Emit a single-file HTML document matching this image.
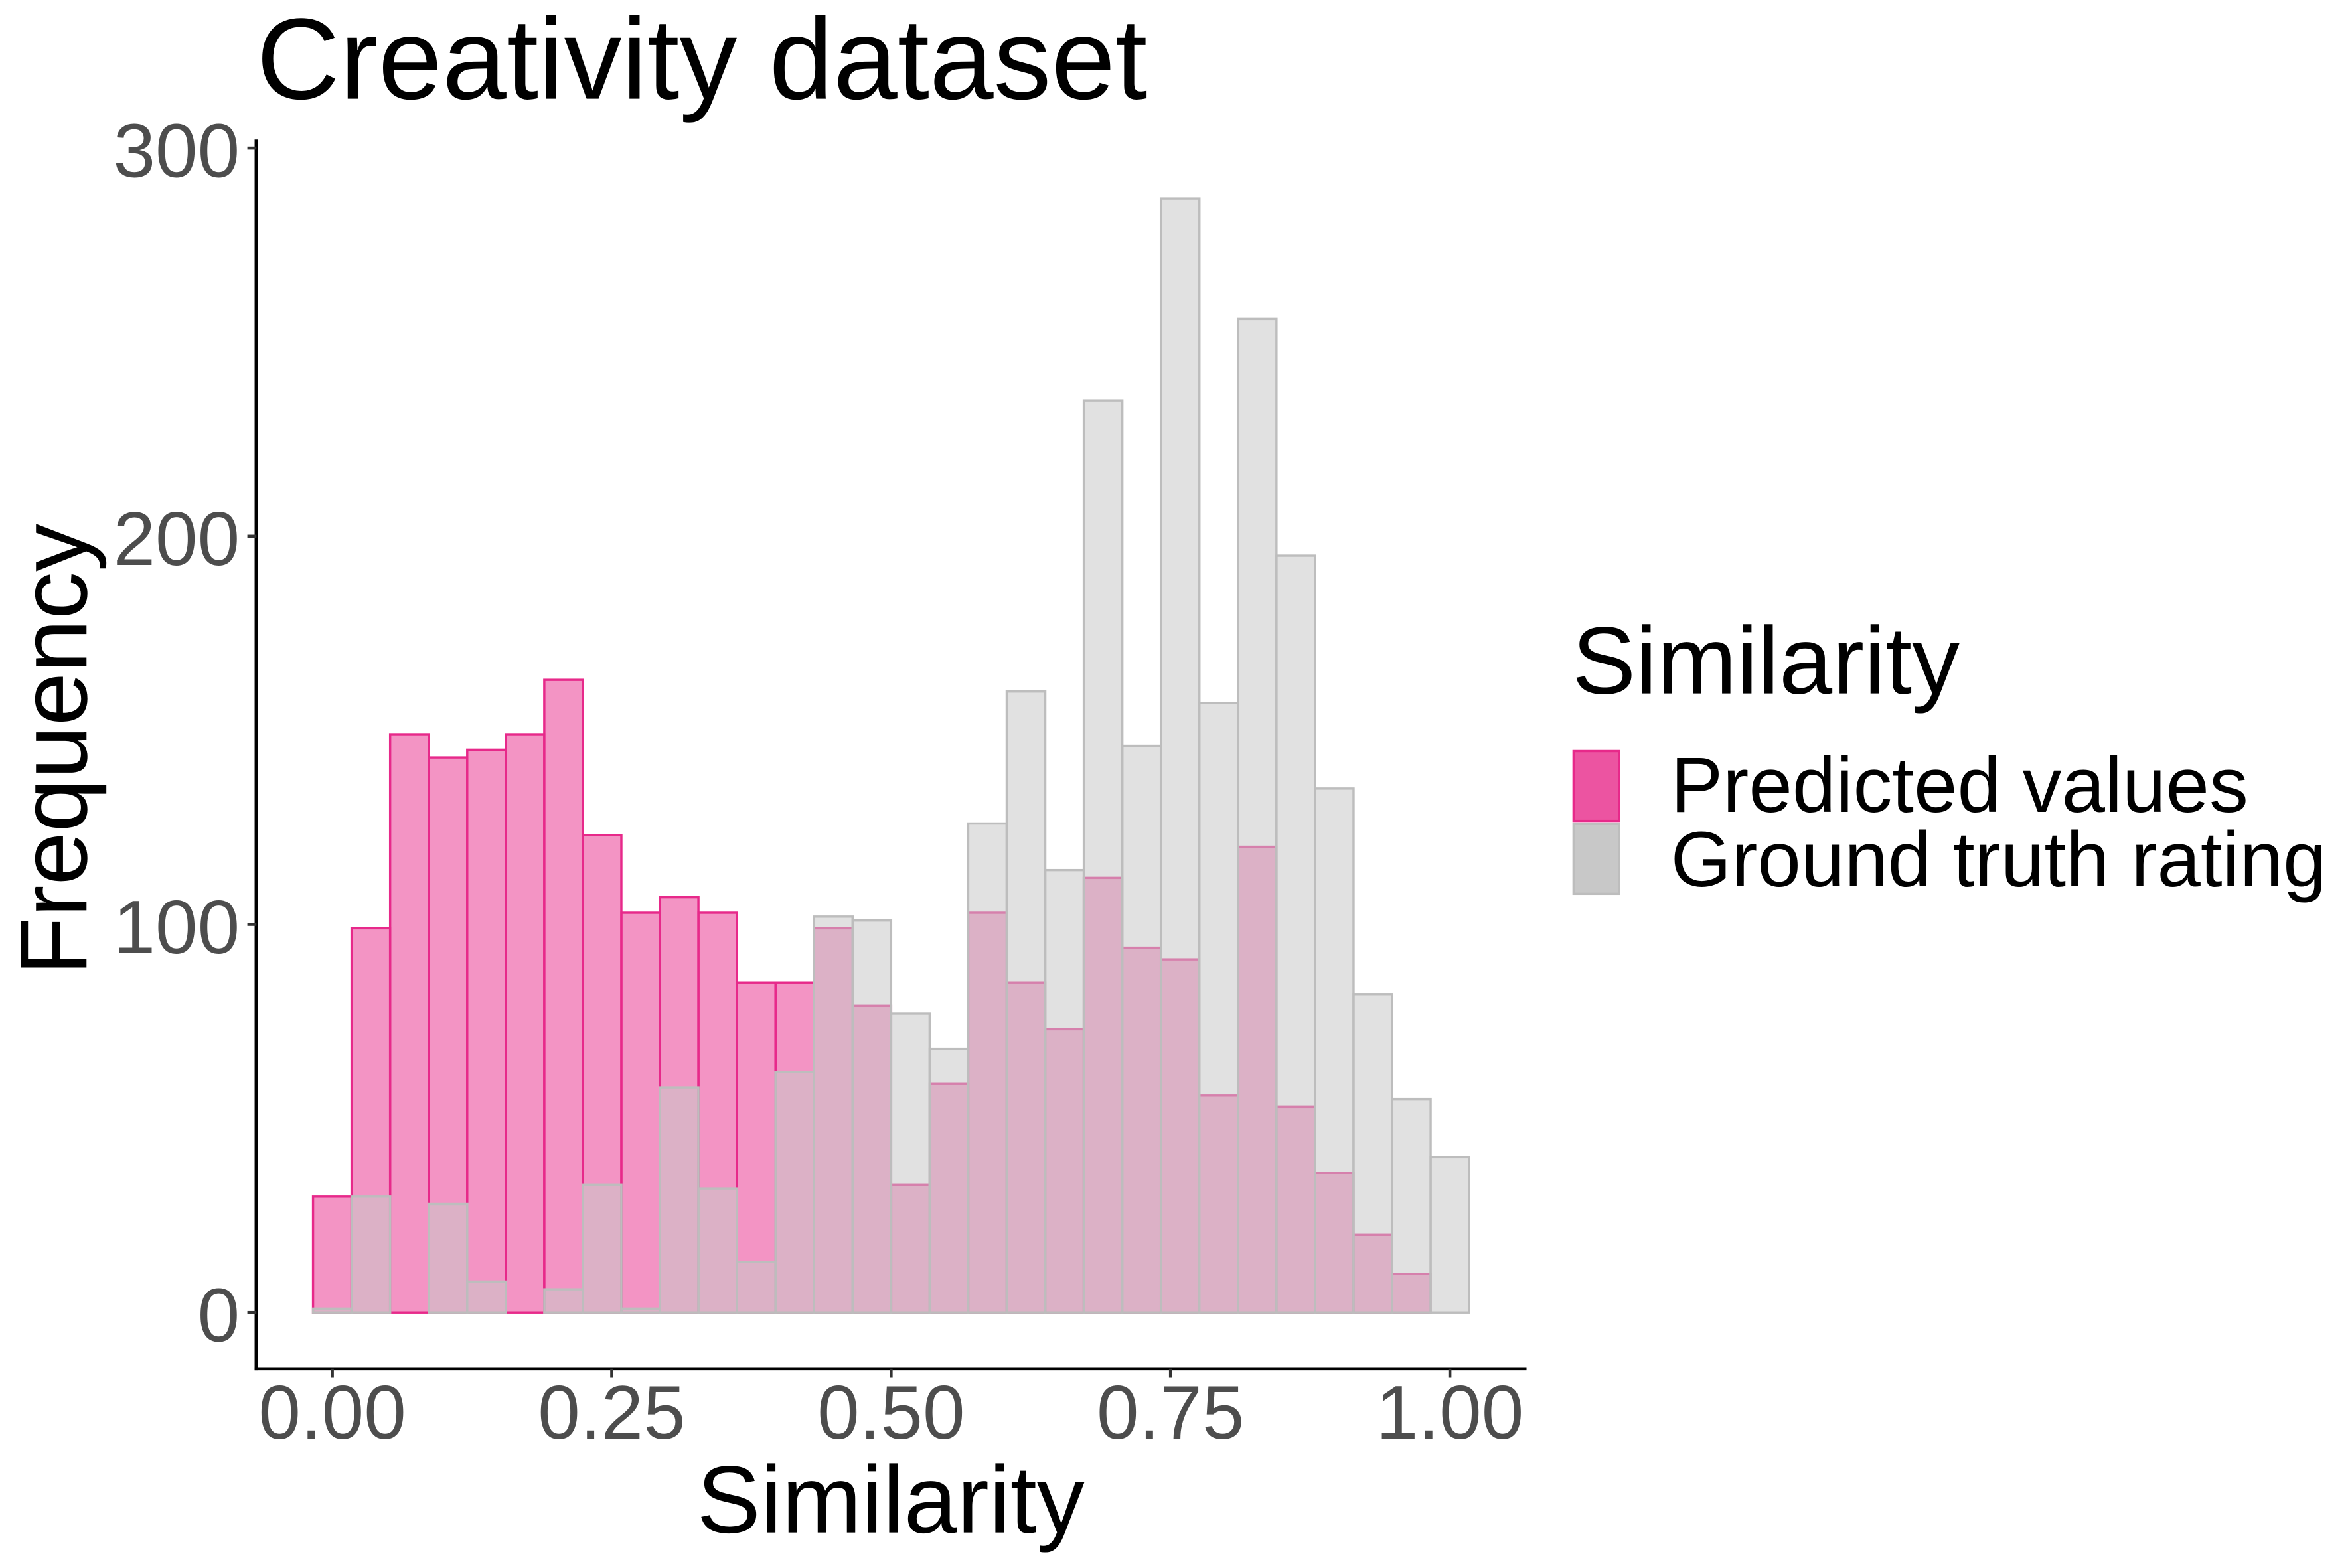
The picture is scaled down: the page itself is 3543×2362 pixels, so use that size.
<!DOCTYPE html>
<html><head><meta charset="utf-8"><style>html,body{margin:0;padding:0;background:#fff}svg{display:block}</style></head>
<body>
<svg id="chart" width="3543" height="2362" viewBox="0 0 1550 1033.33" xmlns="http://www.w3.org/2000/svg" font-family="Liberation Sans, sans-serif">
<rect width="1550" height="1034" fill="#fff"/>
<text x="169" y="65" font-size="76" fill="#000">Creativity dataset</text>
<g id="bars"></g>
<g id="axes"></g>
<text x="587" y="1010" font-size="63" text-anchor="middle" fill="#000">Similarity</text>
<text transform="translate(57,494) rotate(-90)" font-size="63" text-anchor="middle" fill="#000">Frequency</text>
<g>
<text x="1036" y="457" font-size="63" fill="#000">Similarity</text>
<rect x="1037" y="495" width="30" height="46" fill="#e7298a" fill-opacity="0.8" stroke="#e7298a" stroke-width="1.5"/>
<rect x="1037" y="543" width="30" height="46" fill="#c8c8c8" stroke="#bdbdbd" stroke-width="1.5"/>
<text x="1101" y="535" font-size="51.5" fill="#000">Predicted values</text>
<text x="1101" y="584" font-size="51.5" fill="#000">Ground truth rating</text>
</g>
</svg>
<script>
const predicted = [30,99,149,143,145,149,163,123,103,107,103,85,85,99,79,33,59,103,85,73,112,94,91,56,120,53,36,20,10,0];
const groundTruth = [1,30,0,28,8,0,6,33,1,58,32,13,62,102,101,77,68,126,160,114,235,146,287,157,256,195,135,82,55,40];
const binCount = 30;
const yTicks = [0,100,200,300];
const xTicks = [0,0.25,0.5,0.75,1];
const xTickLabels = ["0.00","0.25","0.50","0.75","1.00"];

const NS = "http://www.w3.org/2000/svg";
const x0 = 219, x1 = 955.5, y0 = 865, yPer = 2.558;
const binW = 1/(binCount-1);
const xs = v => x0 + (x1-x0)*v;
const ys = v => y0 - v*yPer;
const bars = document.getElementById('bars');
const axes = document.getElementById('axes');
function mk(tag, attrs, parent){const e=document.createElementNS(NS,tag);for(const k in attrs)e.setAttribute(k,attrs[k]);parent.appendChild(e);return e;}

predicted.forEach((v,i)=>{
  const c=i*binW, l=xs(c-binW/2), r=xs(c+binW/2);
  const e=mk('rect',{x:l,y:ys(v),width:r-l,height:ys(0)-ys(v),fill:'#e7298a','fill-opacity':0.5,stroke:'#e7298a','stroke-width':1.5},bars);
  
  
});
groundTruth.forEach((v,i)=>{
  const c=i*binW, l=xs(c-binW/2), r=xs(c+binW/2);
  const e=mk('rect',{x:l,y:ys(v),width:r-l,height:ys(0)-ys(v),fill:'#c8c8c8','fill-opacity':0.55,stroke:'#bdbdbd','stroke-width':1.5},bars);
  
  
});

let a=mk('line',{x1:168.8,y1:92,x2:168.8,y2:903,stroke:'#000','stroke-width':2},axes);


a=mk('line',{x1:167.8,y1:902,x2:1006,y2:902,stroke:'#000','stroke-width':2},axes);


yTicks.forEach(t=>{
  mk('line',{x1:163,y1:ys(t),x2:169,y2:ys(t),stroke:'#333','stroke-width':2},axes);
  const tx=mk('text',{x:158,y:ys(t)+19,'font-size':50,'text-anchor':'end',fill:'#4d4d4d'},axes);
  tx.textContent=t;
  
  
});
xTicks.forEach((t,i)=>{
  mk('line',{x1:xs(t),y1:902,x2:xs(t),y2:908,stroke:'#333','stroke-width':2},axes);
  const tx=mk('text',{x:xs(t),y:948,'font-size':50,'text-anchor':'middle',fill:'#4d4d4d'},axes);
  tx.textContent=xTickLabels[i];
  
  
});
</script>
</body></html>
